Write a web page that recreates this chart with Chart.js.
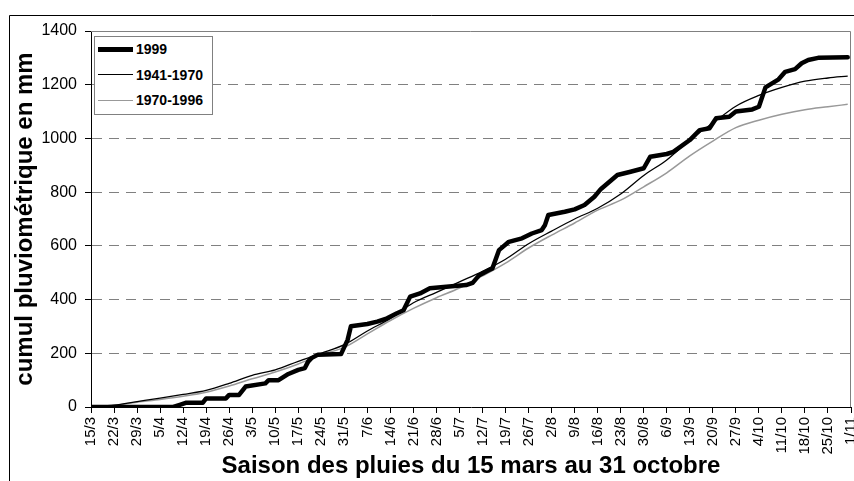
<!DOCTYPE html>
<html>
<head>
<meta charset="utf-8">
<script src="https://cdn.jsdelivr.net/npm/chart.js@4.4.0/dist/chart.umd.min.js"></script>
<style>
  html, body { margin: 0; padding: 0; background: #fff; }
  #wrap { position: relative; width: 854px; height: 481px; }
  #legend {
    position: absolute; left: 94px; top: 36px; width: 117px; height: 77px;
    border: 1px solid #808080; background: #fff;
    font: bold 14px "Liberation Sans", Arial, sans-serif; color: #000;
  }
  .row { position: absolute; left: 0; height: 20px; width: 100%; }
  .swatch { position: absolute; left: 3px; width: 35px; }
  .lbl { position: absolute; left: 41px; top: 0; line-height: 20px; white-space: nowrap; }
</style>
</head>
<body>
<div id="wrap">
  <canvas id="rain-chart"></canvas>
  <div id="legend"></div>
</div>
<script>
// weekly tick labels, day 0 = 15 March
const tickLabels = ["15/3", "22/3", "29/3", "5/4", "12/4", "19/4", "26/4", "3/5", "10/5", "17/5",
  "24/5", "31/5", "7/6", "14/6", "21/6", "28/6", "5/7", "12/7", "19/7", "26/7", "2/8", "9/8",
  "16/8", "23/8", "30/8", "6/9", "13/9", "20/9", "27/9", "4/10", "11/10", "18/10", "25/10", "1/11"];

// normals, read weekly (day since 15/3)
const normalDays = [0, 7, 14, 21, 28, 35, 42, 49, 56, 63, 70, 77, 84, 91, 98, 105, 112, 119, 126,
  133, 140, 147, 154, 161, 168, 175, 182, 189, 196, 203, 210, 217, 224, 230];
const normal4170 = [0, 7, 20, 33, 47, 62, 88, 118, 138, 170, 200, 232, 283, 330, 388, 427, 466, 505,
  550, 608, 655, 700, 740, 793, 862, 920, 995, 1057, 1120, 1160, 1190, 1213, 1225, 1232];
const normal7096 = [0, 6, 18, 28, 40, 55, 78, 105, 130, 160, 195, 222, 272, 322, 367, 407, 443, 488,
  536, 592, 640, 685, 733, 770, 820, 872, 935, 990, 1040, 1068, 1090, 1107, 1118, 1127];

// 1999 cumulative rain, points where the curve changes
const days1999 = [0, 25, 27, 29, 34, 35, 41, 42, 45, 47, 53, 54, 57, 60, 63, 65, 66, 67, 69, 76,
  78, 79, 84, 87, 90, 93, 95, 97, 100, 103, 108, 114, 116, 118, 121, 122, 124, 127, 131, 134, 137,
  138, 139, 144, 147, 150, 153, 155, 160, 164, 168, 170, 175, 177, 182, 185, 188, 190, 194, 196,
  201, 203, 205, 209, 211, 214, 216, 218, 221, 230];
const rain1999 = [0, 0, 8, 16, 16, 32, 32, 45, 45, 76, 88, 100, 100, 123, 138, 145, 169, 182, 195, 197,
  250, 301, 309, 318, 330, 349, 360, 411, 423, 442, 448, 454, 462, 491, 510, 516, 584, 615, 628, 646, 659,
  678, 715, 727, 736, 752, 783, 812, 864, 876, 889, 932, 942, 950, 994, 1031, 1038, 1075, 1081, 1100,
  1108, 1118, 1190, 1220, 1248, 1258, 1280, 1292, 1300, 1302];

const toPoints = (xs, ys) => xs.map((d, i) => ({ x: d, y: ys[i] }));

Chart.defaults.font.family = '"Liberation Sans", Arial, sans-serif';
Chart.defaults.color = "#000";

// white page, outer frame and grey plot border
const framePlugin = {
  id: "frame",
  beforeDraw(chart) {
    const c = chart.ctx;
    c.save();
    c.fillStyle = "#fff";
    c.fillRect(0, 0, chart.width, chart.height);
    c.strokeStyle = "#000";
    c.lineWidth = 1;
    c.beginPath();
    c.moveTo(9.5, chart.height);
    c.lineTo(9.5, 15.5);
    c.lineTo(chart.width, 15.5);
    c.stroke();
    c.restore();
  },
  beforeDatasetsDraw(chart) {
    const a = chart.chartArea;
    const c = chart.ctx;
    c.save();
    c.strokeStyle = "#808080";
    c.lineWidth = 1;
    c.beginPath();
    c.moveTo(a.left, a.top + 0.5);
    c.lineTo(a.right - 0.5, a.top + 0.5);
    c.lineTo(a.right - 0.5, a.bottom);
    c.stroke();
    c.restore();
  },
};

const chart = new Chart(document.getElementById("rain-chart"), {
  type: "line",
  data: {
    datasets: [
      {
        label: "1999",
        data: toPoints(days1999, rain1999),
        borderColor: "#000",
        borderWidth: 4.5,
        borderJoinStyle: "round",
        borderCapStyle: "round",
        pointRadius: 0,
        tension: 0,
      },
      {
        label: "1941-1970",
        data: toPoints(normalDays, normal4170),
        borderColor: "#000",
        borderWidth: 1.3,
        pointRadius: 0,
        cubicInterpolationMode: "monotone",
      },
      {
        label: "1970-1996",
        data: toPoints(normalDays, normal7096),
        borderColor: "#999",
        borderWidth: 1.5,
        pointRadius: 0,
        cubicInterpolationMode: "monotone",
      },
    ],
  },
  options: {
    responsive: true,
    maintainAspectRatio: false,
    animation: false,
    events: [],
    layout: { padding: { top: 31, right: 3, left: 0, bottom: 0 } },
    plugins: {
      legend: { display: false },
      tooltip: { enabled: false },
    },
    scales: {
      x: {
        type: "linear",
        min: 0,
        max: 231,
        afterBuildTicks(scale) {
          scale.ticks = tickLabels.map((_, i) => ({ value: i * 7 }));
        },
        afterFit(scale) {
          scale.height = 74;
          scale.paddingLeft = 0;
          scale.paddingRight = 0;
        },
        ticks: {
          autoSkip: false,
          maxRotation: 90,
          minRotation: 90,
          padding: 4,
          font: { size: 15 },
          color: "#000",
          callback: (value, index) => tickLabels[index],
        },
        grid: {
          drawOnChartArea: false,
          tickLength: 6,
          tickColor: "#000",
          color: "#000",
        },
        border: { color: "#000", width: 1 },
        title: {
          display: true,
          text: "Saison des pluies du 15 mars au 31 octobre",
          font: { size: 24, weight: "bold" },
          color: "#000",
          padding: { top: 0, bottom: 0 },
        },
      },
      y: {
        min: 0,
        max: 1400,
        afterFit(scale) {
          scale.width = 91;
        },
        ticks: {
          stepSize: 200,
          padding: 8,
          font: { size: 16 },
          color: "#000",
          callback: (value) => String(value),
        },
        grid: {
          color: (ctx) =>
            ctx.tick && (ctx.tick.value === 0 || ctx.tick.value === 1400) ? "rgba(0,0,0,0)" : "#808080",
          tickColor: "#000",
          tickLength: 6,
          lineWidth: 1,
        },
        border: { color: "#000", width: 1, dash: [10, 7] },
        title: {
          display: true,
          text: "cumul pluviométrique en mm",
          font: { size: 24, weight: "bold" },
          color: "#000",
          padding: { top: 11, bottom: 0 },
        },
      },
    },
  },
  plugins: [framePlugin],
});

// legend box drawn in html, from the datasets
const legendBox = document.getElementById("legend");
chart.data.datasets.forEach((ds, i) => {
  const row = document.createElement("div");
  row.className = "row";
  row.style.top = (2 + i * 25.5) + "px";
  const sw = document.createElement("div");
  sw.className = "swatch";
  const h = ds.borderWidth > 3 ? 5 : 1;
  sw.style.height = h + "px";
  sw.style.top = (10 - h / 2) + "px";
  sw.style.background = ds.borderColor;
  const lbl = document.createElement("div");
  lbl.className = "lbl";
  lbl.textContent = ds.label;
  row.appendChild(sw);
  row.appendChild(lbl);
  legendBox.appendChild(row);
});
</script>
</body>
</html>
